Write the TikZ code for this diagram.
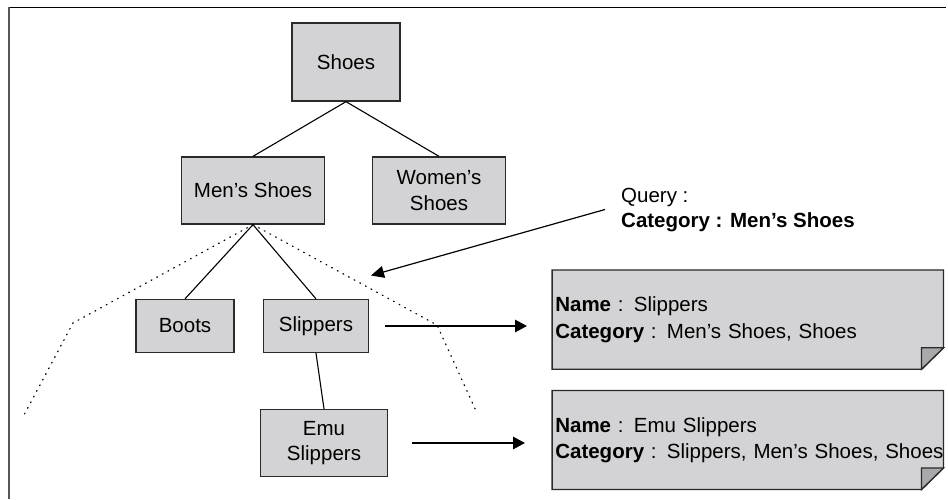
\documentclass[tikz,border=0pt]{standalone}
\usepackage{fontspec}
\setmainfont{Liberation Sans}
\usetikzlibrary{arrows.meta}
\pgfdeclarelayer{background}
\pgfsetlayers{background,main}
\definecolor{boxgray}{HTML}{D3D3D5}
\definecolor{foldgray}{HTML}{A9A9AB}
\definecolor{edgegray}{HTML}{2A2A2A}
\definecolor{framegray}{HTML}{555555}
\tikzset{
  treebox/.style={draw=edgegray, fill=boxgray, line width=1.3pt, align=center, inner sep=0pt,
    font=\fontsize{20.5}{25.7}\selectfont},
  notebox/.style={inner xsep=3pt, inner ysep=0pt, minimum width=391pt, text width=385pt, align=left,
    font=\fontsize{20.5}{26.5}\selectfont},
  noteshape/.style={draw=edgegray, fill=boxgray, line width=1.3pt, line join=miter},
  foldshape/.style={draw=edgegray, fill=foldgray, line width=1.3pt},
  treeedge/.style={line width=1.1pt, black},
  dotline/.style={line width=1.2pt, black, dash pattern=on 0.9pt off 5.5pt, line cap=round},
  fatarrow/.style={line width=2.6pt, -{Triangle[length=12pt,width=12pt]}},
  thinarrow/.style={line width=1.2pt, -{Triangle[length=13pt,width=12pt]}},
}
\begin{document}
\begin{tikzpicture}[x=1pt,y=-1pt]
\useasboundingbox (0,0) rectangle (948,499);
% frame
\draw[line width=1.5pt, black] (8,7.5) -- (946,7.5);
\draw[line width=2.2pt, framegray] (8.6,6.8) -- (8.6,499);
% tree
\node[treebox, minimum width=108pt, minimum height=78pt] (shoes) at (346,62) {Shoes};
\node[treebox, minimum width=143pt, minimum height=67pt] (mens) at (253,190.5) {Men’s Shoes};
\node[treebox, minimum width=133pt, minimum height=67pt] (womens) at (439,190.5) {Women’s\\Shoes};
\node[treebox, minimum width=98pt, minimum height=53pt] (boots) at (185,326) {Boots};
\node[treebox, minimum width=105pt, minimum height=53pt] (slippers) at (316,326) {Slippers};
\node[treebox, minimum width=127pt, minimum height=67pt] (emu) at (324,443) {Emu\\Slippers};
\draw[treeedge] (shoes.south) -- (mens.north);
\draw[treeedge] (shoes.south) -- (womens.north);
\draw[treeedge] (mens.south) -- (boots.north);
\draw[treeedge] (mens.south) -- (slippers.north);
\draw[treeedge] (slippers.south) -- (emu.north);
% dotted scope lines
\coordinate (dl1) at (73,323);
\coordinate (dl2) at (24,415);
\coordinate (dr1) at (437,325);
\coordinate (dr2) at (477,413);
\draw[dotline] (mens.south) -- (dl1) -- (dl2);
\draw[dotline] (mens.south) -- (dr1) -- (dr2);
% query
\node[anchor=west, align=left, inner sep=0pt, font=\fontsize{20.5}{25}\selectfont] (query) at (621,210.5)
  {Query :\\\textbf{Category : Men’s Shoes}};
\coordinate (qtip) at (371,275.5);
\draw[thinarrow] ([xshift=-16pt,yshift=1pt]query.west) -- (qtip);
% notes
\node[notebox, minimum height=99pt] (note1) at (747.8,319.6)
  {\mbox{\textbf{Name} : Slippers}\\\mbox{\textbf{Category} : Men’s Shoes, Shoes}};
\node[notebox, minimum height=98.6pt] (note2) at (747.8,440)
  {\mbox{\textbf{Name} : Emu Slippers}\\\mbox{\textbf{Category} : Slippers, Men’s Shoes, Shoes}};
\begin{pgfonlayer}{background}
\foreach \n in {note1,note2}{
  \draw[noteshape] (\n.north west) -- (\n.north east) -- ([yshift=21.5pt]\n.south east)
    -- ([xshift=-22pt]\n.south east) -- (\n.south west) -- cycle;
  \draw[foldshape] ([xshift=-22pt]\n.south east) -- ([xshift=-22pt,yshift=21.5pt]\n.south east)
    -- ([yshift=21.5pt]\n.south east) -- cycle;
}
\end{pgfonlayer}
\draw[fatarrow, shorten <=16pt, shorten >=25pt] (slippers.east) -- (slippers.east -| note1.west);
\draw[fatarrow, shorten <=24pt, shorten >=27pt] (emu.east) -- (emu.east -| note2.west);
\end{tikzpicture}
\end{document}
